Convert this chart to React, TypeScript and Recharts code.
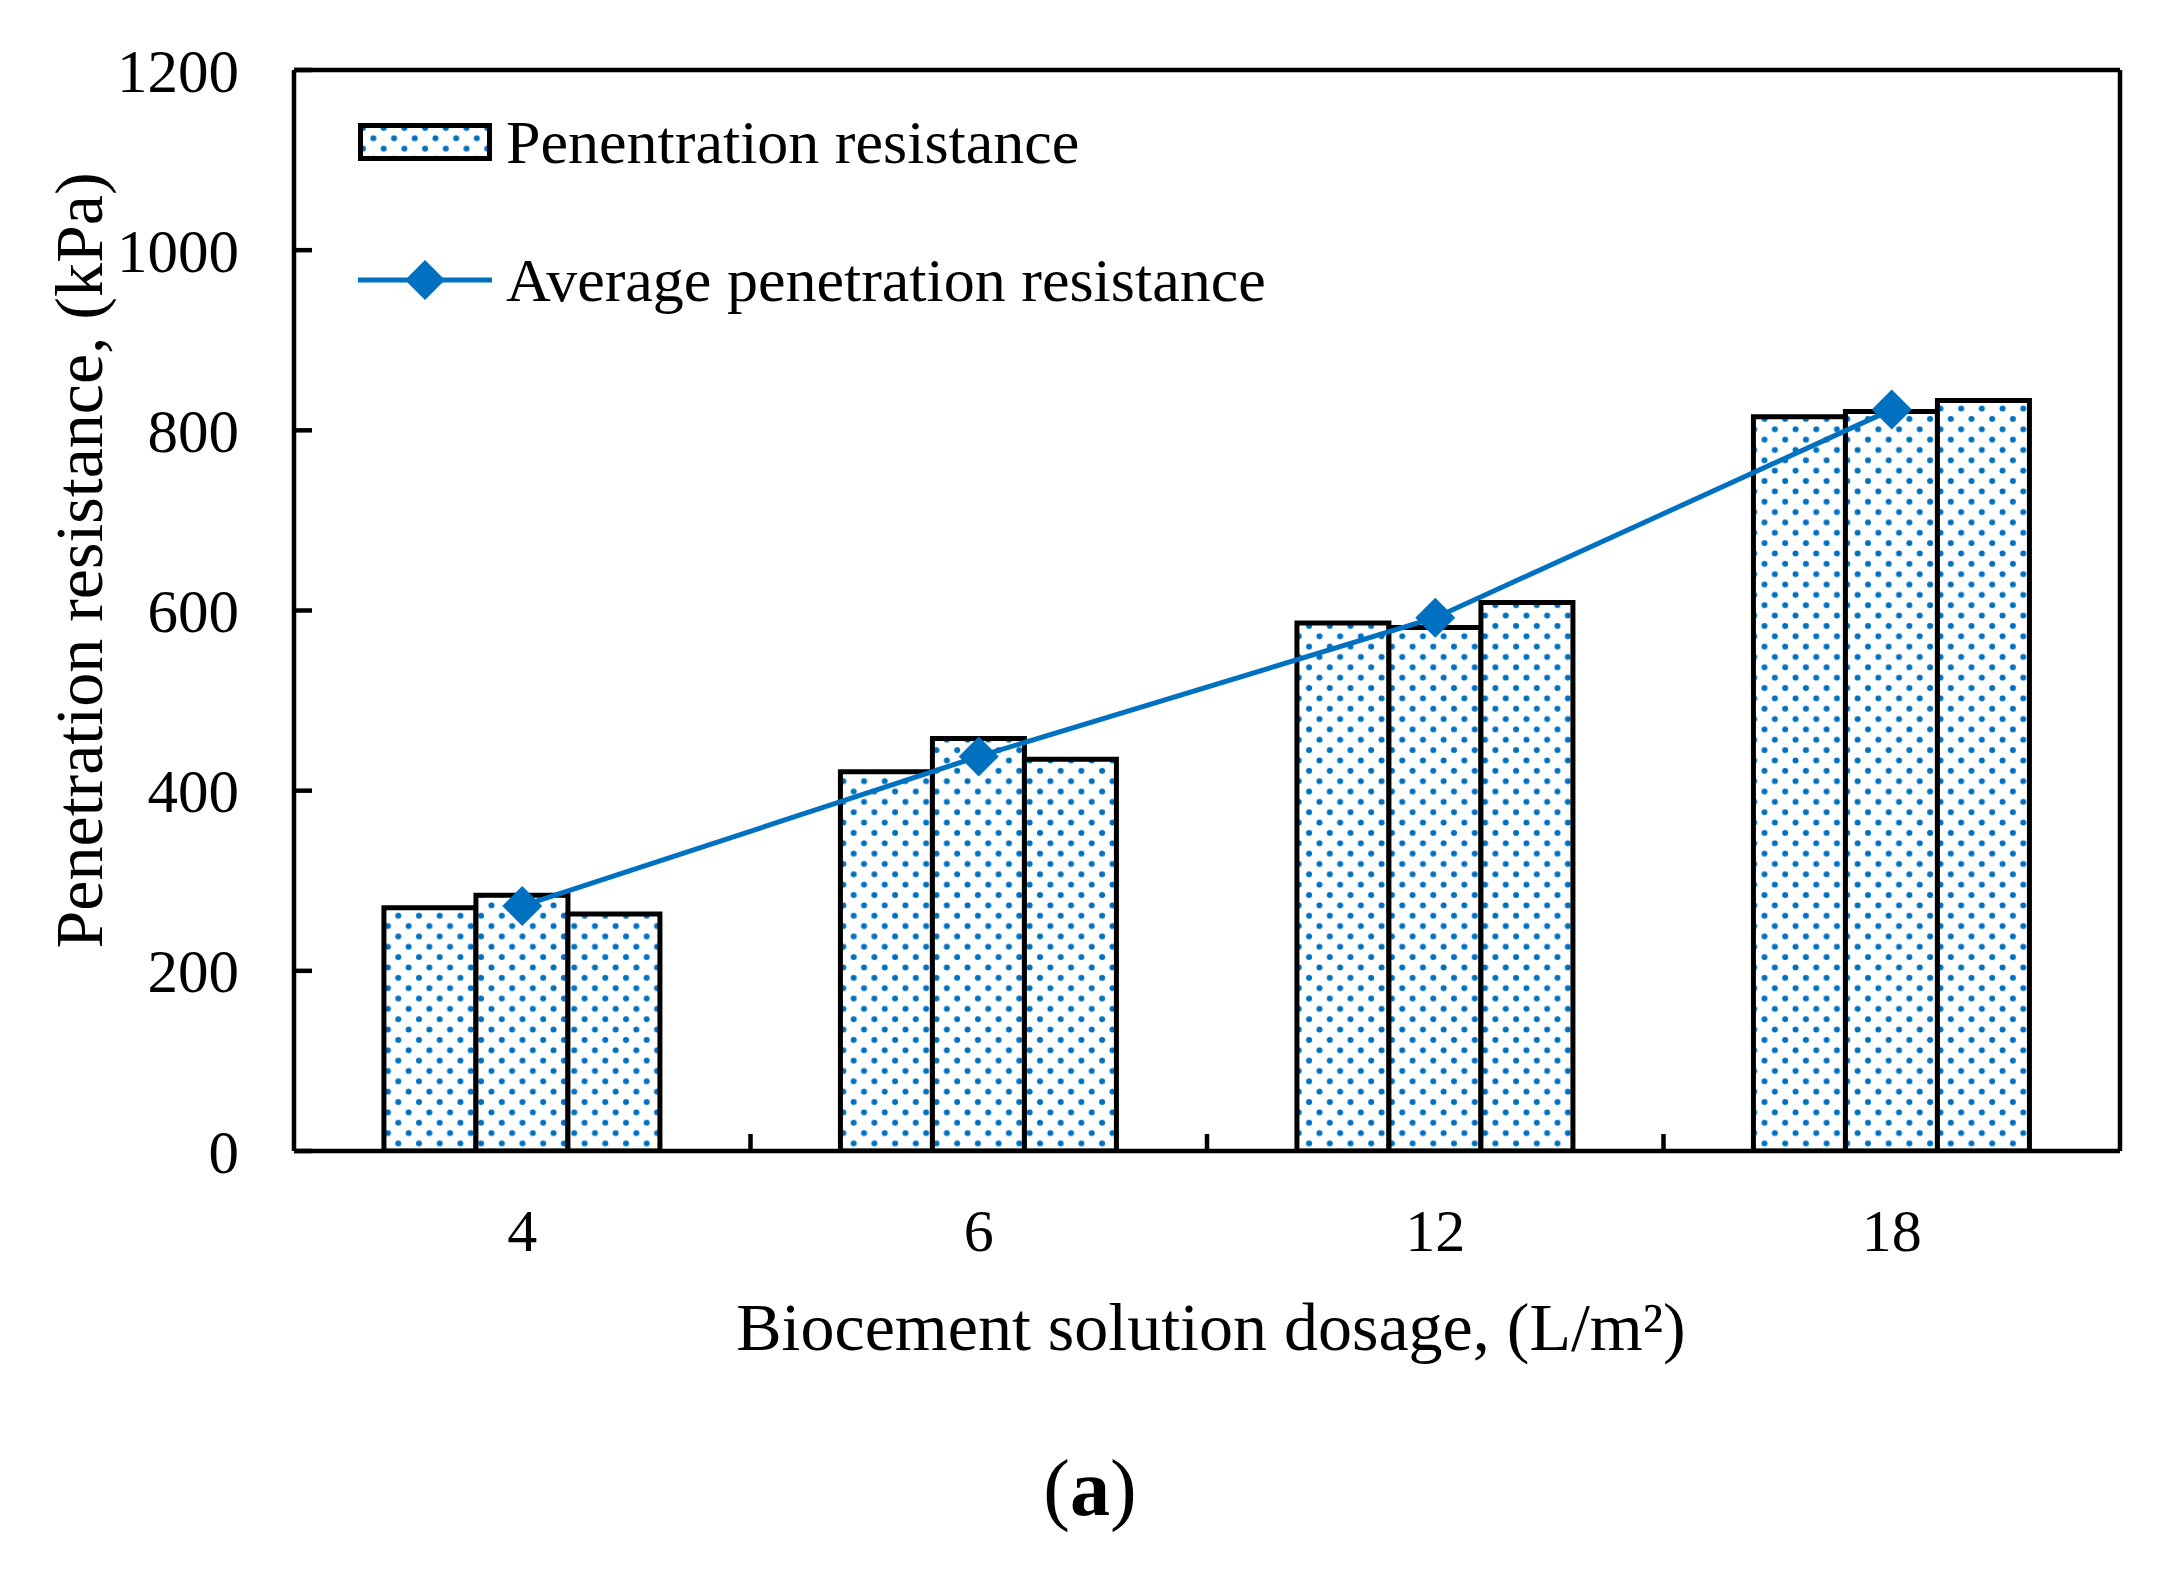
import React from "react";
import { ComposedChart, Bar, Line, XAxis, YAxis, Legend } from "recharts";

// values (kPa)
const dosages = ["4", "6", "12", "18"];
const test1 = [270, 421, 586, 815];
const test2 = [284, 458, 581, 821];
const test3 = [263, 435, 609, 833];
const average = [272, 438, 592, 823];
const yTicks = [0, 200, 400, 600, 800, 1000, 1200];
const boundaryTicks = [1, 2, 3];
const legendLabels = ["Penentration resistance", "Average penetration resistance"];

// pos = middle of each category slot, used only by the boundary-tick axis
const data = dosages.map((d, i) => ({
  dosage: d,
  pos: i + 0.5,
  r1: test1[i],
  r2: test2[i],
  r3: test3[i],
  avg: average[i],
}));

const BLUE = "#0070C0";
const FONT = "'Liberation Serif', 'Times New Roman', serif";

const Diamond = (props: any) => {
  const { cx, cy, index } = props;
  if (cx == null || cy == null) return null;
  const r = 20;
  return (
    <path
      key={`d-${index}`}
      d={`M${cx},${cy - r} L${cx + r},${cy} L${cx},${cy + r} L${cx - r},${cy} Z`}
      fill={BLUE}
    />
  );
};

const NoLabel = () => <g />;

const YTitle = (props: any) => {
  const vb = props.viewBox || {};
  const cx = vb.x + 45;
  const cy = vb.y + vb.height / 2 - 50;
  return (
    <text
      x={cx}
      y={cy}
      transform={`rotate(-90 ${cx} ${cy})`}
      textAnchor="middle"
      dominantBaseline="central"
      fontFamily={FONT}
      fontSize={68}
      fill="#000"
    >
      Penetration resistance, (kPa)
    </text>
  );
};

const XTitle = (props: any) => {
  const vb = props.viewBox || {};
  const cx = vb.x + vb.width / 2 + 4;
  const y = vb.y + 199;
  return (
    <text x={cx} y={y} textAnchor="middle" fontFamily={FONT} fontSize={68} fill="#000">
      Biocement solution dosage, (L/m²)
    </text>
  );
};

const LegendBox = () => (
  <div style={{ fontFamily: FONT, fontSize: 62, color: "#000" }}>
    <div style={{ display: "flex", alignItems: "center", height: 84 }}>
      <svg width={134} height={38} style={{ display: "block", flexShrink: 0 }}>
        <rect x={2.5} y={2.5} width={129} height={33} fill="url(#dots)" stroke="#000" strokeWidth={5} />
      </svg>
      <span style={{ marginLeft: 14, whiteSpace: "nowrap" }}>{legendLabels[0]}</span>
    </div>
    <div style={{ display: "flex", alignItems: "center", height: 84, marginTop: 54 }}>
      <svg width={134} height={44} style={{ display: "block", flexShrink: 0 }}>
        <line x1={0} y1={22} x2={134} y2={22} stroke={BLUE} strokeWidth={5} />
        <path d="M67,2 L87,22 L67,42 L47,22 Z" fill={BLUE} />
      </svg>
      <span style={{ marginLeft: 14, whiteSpace: "nowrap" }}>{legendLabels[1]}</span>
    </div>
  </div>
);

export default function App() {
  const axisLine = { stroke: "#000", strokeWidth: 4.5 };
  return (
    <div style={{ position: "absolute", left: 0, top: 0, width: 2164, height: 1591, background: "#fff" }}>
      <ComposedChart
        width={2164}
        height={1591}
        data={data}
        margin={{ top: 69, right: 43, left: 34, bottom: 319 }}
        barCategoryGap="19.7%"
        barGap={0}
        style={{ fontFamily: FONT }}
      >
        <defs>
          <pattern id="dots" width={20.7} height={20.7} patternUnits="userSpaceOnUse">
            <rect width={20.7} height={20.7} fill="#fff" />
            <circle cx={5} cy={5} r={3} fill={BLUE} />
            <circle cx={15.35} cy={15.35} r={3} fill={BLUE} />
          </pattern>
        </defs>

        {/* category axis sits right on the plot edge; its labels are pushed down by tickMargin */}
        <XAxis
          xAxisId="cat"
          dataKey="dosage"
          height={1}
          axisLine={axisLine}
          tickLine={false}
          tickSize={0}
          tickMargin={57}
          tick={{ fill: "#000", fontSize: 60, fontFamily: FONT }}
          label={<XTitle />}
        />
        <XAxis
          xAxisId="ticks"
          type="number"
          dataKey="pos"
          domain={[0, 4]}
          ticks={boundaryTicks}
          allowDataOverflow
          height={120}
          tick={<NoLabel />}
          axisLine={false}
          tickLine={{ stroke: "#000", strokeWidth: 4.5 }}
          tickSize={-18}
        />
        <XAxis
          xAxisId="top"
          orientation="top"
          dataKey="dosage"
          height={1}
          tick={false}
          tickLine={false}
          axisLine={axisLine}
        />
        <YAxis
          yAxisId="left"
          width={260}
          domain={[0, 1200]}
          ticks={yTicks}
          allowDataOverflow
          axisLine={axisLine}
          tickLine={{ stroke: "#000", strokeWidth: 4.5 }}
          tickSize={-18}
          tickMargin={73}
          tick={{ fill: "#000", fontSize: 61, fontFamily: FONT }}
          label={<YTitle />}
        />
        <YAxis
          yAxisId="right"
          orientation="right"
          width={1}
          domain={[0, 1200]}
          allowDataOverflow
          tick={false}
          tickLine={false}
          axisLine={axisLine}
        />

        <Legend
          layout="vertical"
          align="center"
          verticalAlign="middle"
          content={<LegendBox />}
          wrapperStyle={{ left: 358, top: 100, width: 1200, height: 240 }}
        />

        <Bar xAxisId="cat" yAxisId="left" dataKey="r1" name={legendLabels[0]} fill="url(#dots)" stroke="#000" strokeWidth={5} isAnimationActive={false} legendType="none" />
        <Bar xAxisId="cat" yAxisId="left" dataKey="r2" name={legendLabels[0]} fill="url(#dots)" stroke="#000" strokeWidth={5} isAnimationActive={false} legendType="none" />
        <Bar xAxisId="cat" yAxisId="left" dataKey="r3" name={legendLabels[0]} fill="url(#dots)" stroke="#000" strokeWidth={5} isAnimationActive={false} legendType="none" />
        {/* invisible series so the boundary-tick axis gets a scale */}
        <Line
          xAxisId="ticks"
          yAxisId="left"
          dataKey="avg"
          stroke="none"
          dot={false}
          activeDot={false}
          legendType="none"
          isAnimationActive={false}
        />
        <Line
          xAxisId="cat"
          yAxisId="left"
          dataKey="avg"
          name={legendLabels[1]}
          stroke={BLUE}
          strokeWidth={5}
          dot={<Diamond />}
          activeDot={false}
          isAnimationActive={false}
        />
      </ComposedChart>
      <div
        style={{
          position: "absolute",
          left: 990,
          top: 1438,
          width: 200,
          textAlign: "center",
          fontFamily: FONT,
          fontSize: 80,
          lineHeight: "100px",
        }}
      >
        (<b>a</b>)
      </div>
    </div>
  );
}
